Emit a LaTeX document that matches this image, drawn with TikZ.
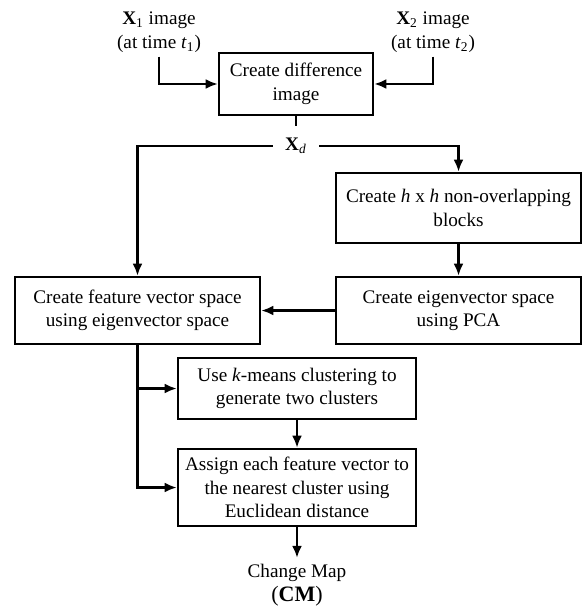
\documentclass[tikz,border=0pt]{standalone}
\usepackage{fontspec}
\setmainfont{Liberation Serif}
\usetikzlibrary{arrows.meta}

\tikzset{
  box/.style={draw, line width=1.3pt, align=center, inner sep=2pt},
  flow/.style={line width=1.2pt, -{Latex[length=6pt,width=5pt]}},
  plain/.style={line width=1.2pt},
}

\begin{document}
\begin{tikzpicture}[x=0.5pt,y=-0.5pt,font=\fontsize{9.6}{11.75}\selectfont]
    \useasboundingbox (0,0) rectangle (582,610);

    % input images
    \node[align=center, inner sep=2pt] (xone) at (159,32) {\textbf{X}\textsubscript{1} image\\(at time \textit{t}\textsubscript{1})};
    \node[align=center, inner sep=2pt] (xtwo) at (433,32) {\textbf{X}\textsubscript{2} image\\(at time \textit{t}\textsubscript{2})};

    % boxes
    \node[box, minimum width=77pt, minimum height=31pt] (diff) at (296,84) {Create difference\\image};
    \node[inner sep=6pt] (xd) at (296,146) {\textbf{X}\textsubscript{\textit{d}}};
    \node[box, minimum width=122.5pt, minimum height=35pt] (blocks) at (458.5,208) {Create \textit{h} x \textit{h} non-overlapping\\blocks};
    \node[box, minimum width=122.5pt, minimum height=33.5pt] (eigen) at (458.5,310.5) {Create eigenvector space\\using PCA};
    \node[box, minimum width=122.5pt, minimum height=33.5pt] (feat) at (137.5,310.5) {Create feature vector space\\using eigenvector space};
    \node[box, minimum width=119pt, minimum height=30.5pt] (kmeans) at (297,388.5) {Use \textit{k}-means clustering to\\generate two clusters};
    \node[box, minimum width=119pt, minimum height=38.5pt] (assign) at (297,487.5) {Assign each feature vector to\\the nearest cluster using\\Euclidean distance};
    \node[align=center, inner sep=3pt] (cm) at (297,585) {Change Map\\{\fontsize{11}{13}\selectfont(\textbf{CM})}};

    % connectors
    \draw[flow] (xone.south) |- (diff.west);
    \draw[flow] (xtwo.south) |- (diff.east);
    \draw[plain] (diff.south) -- (xd.north);
    \draw[flow] (xd.west) -| (feat.north);
    \draw[flow] (xd.east) -| (blocks.north);
    \draw[flow] (blocks.south) -- (eigen.north);
    \draw[flow] (eigen.west) -- (feat.east);
    \draw[flow] (feat.south) |- (kmeans.west);
    \draw[flow] (feat.south) |- (assign.west);
    \draw[flow] (kmeans.south) -- (assign.north);
    \draw[flow] (assign.south) -- (cm.north);

\end{tikzpicture}
\end{document}
